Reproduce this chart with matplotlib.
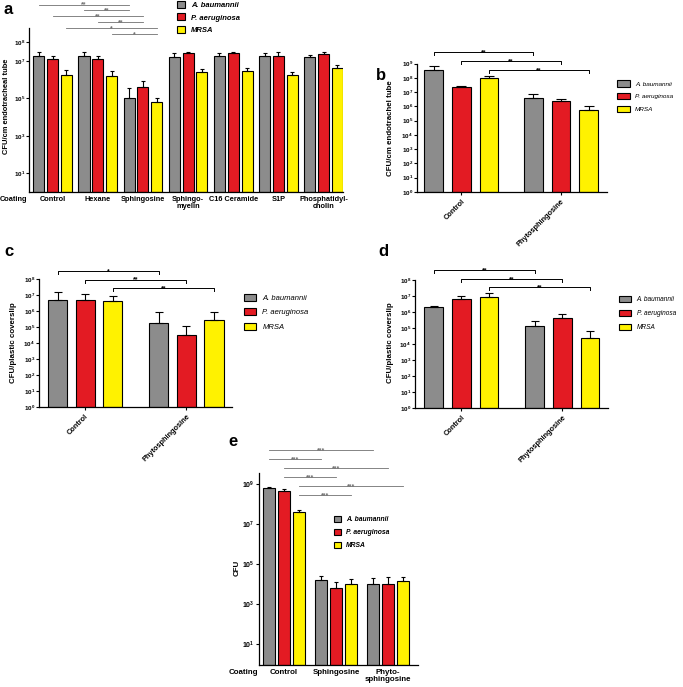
import numpy as np
import matplotlib
matplotlib.use("Agg")
import matplotlib.pyplot as plt
import matplotlib.transforms as mtrans
from matplotlib.patches import Patch

plt.rcParams['font.family'] = ['Liberation Sans', 'DejaVu Sans']
plt.rcParams['mathtext.fontset'] = 'custom'
plt.rcParams['mathtext.rm'] = 'Liberation Sans'
plt.rcParams['mathtext.bf'] = 'Liberation Sans:bold'
plt.rcParams['mathtext.it'] = 'Liberation Sans:italic'

W, H = 683, 687
species = ["A. baumannii", "P. aeruginosa", "MRSA"]
colors = ["#8c8c8c", "#e31b23", "#fff200"]

# ---- panel a: endotracheal tube, lipid coatings
coat_a = ["Control", "Hexane", "Sphingosine", "Sphingo-\nmyelin", "C16 Ceramide", "S1P",
          "Phosphatidyl-\ncholin"]
ab_a = [1.85e7, 1.9e7, 1.0e5, 1.6e7, 1.85e7, 1.85e7, 1.6e7]
ab_a_err = [1.25e7, 1.1e7, 2.4e5, 1.0e7, 0.75e7, 0.95e7, 0.4e7]
pa_a = [1.2e7, 1.2e7, 3.9e5, 2.5e7, 2.5e7, 1.9e7, 2.4e7]
pa_a_err = [0.65e7, 0.6e7, 5.0e5, 0.4e7, 0.6e7, 1.0e7, 0.7e7]
mr_a = [1.7e6, 1.5e6, 6.1e4, 2.6e6, 2.9e6, 1.8e6, 4.4e6]
mr_a_err = [1.6e6, 1.3e6, 3.9e4, 1.3e6, 1.2e6, 0.9e6, 1.7e6]
# (species index, group from, group to, label)
sig_a = [(0, 0, 2, "**"), (0, 1, 2, "**"), (1, 0, 2, "**"), (1, 1, 2, "**"),
         (2, 0, 2, "*"), (2, 1, 2, "*")]

# ---- panel b: endotracheal tube, phytosphingosine
coat_2 = ["Control", "Phytosphingosine"]
ab_b = [3.7e8, 3.7e6]
ab_b_err = [3.3e8, 3.1e6]
pa_b = [2.2e7, 2.3e6]
pa_b_err = [0.6e7, 0.9e6]
mr_b = [9.0e7, 5.6e5]
mr_b_err = [3.6e7, 4.4e5]
sig_b = [(0, 0, 1, "**"), (1, 0, 1, "**"), (2, 0, 1, "**")]

# ---- panel c: plastic coverslip
ab_c = [4.6e6, 1.7e5]
ab_c_err = [1.04e7, 7.0e5]
pa_c = [4.6e6, 3.3e4]
pa_c_err = [6.4e6, 7.7e4]
mr_c = [4.0e6, 2.7e5]
mr_c_err = [5.0e6, 5.6e5]
sig_c = [(0, 0, 1, "*"), (1, 0, 1, "**"), (2, 0, 1, "**")]

# ---- panel d: plastic coverslip
ab_d = [2.0e6, 1.4e5]
ab_d_err = [0.4e6, 1.3e5]
pa_d = [6.9e6, 4.1e5]
pa_d_err = [2.8e6, 3.9e5]
mr_d = [9.2e6, 2.4e4]
mr_d_err = [5.8e6, 3.9e4]
sig_d = [(0, 0, 1, "**"), (1, 0, 1, "**"), (2, 0, 1, "**")]

# ---- panel e: CFU
coat_e = ["Control", "Sphingosine", "Phyto-\nsphingosine"]
ab_e = [6.3e8, 1.7e4, 9.8e3]
ab_e_err = [1.1e8, 0.8e4, 1.0e4]
pa_e = [4.6e8, 6.5e3, 1.05e4]
pa_e_err = [1.2e8, 6.5e3, 1.25e4]
mr_e = [4.1e7, 9.8e3, 1.4e4]
mr_e_err = [0.9e7, 0.9e4, 0.9e4]
sig_e = [(0, 0, 2, "***"), (0, 0, 1, "***"), (1, 0, 2, "***"), (1, 0, 1, "***"),
         (2, 0, 2, "***"), (2, 0, 1, "***")]

fig = plt.figure(figsize=(W / 100, H / 100), dpi=100)


def place(l, t, r, b):
    return fig.add_axes([l / W, 1 - b / H, (r - l) / W, (b - t) / H])


def bars(ax, stride, vals, errs, width, cap, ylim):
    ax.set_yscale('log')
    ax.set_ylim(*ylim)
    centers = np.arange(len(vals[0])) * stride
    for k in range(3):
        x = centers + (k - 1)
        ax.bar(x, vals[k], width, bottom=ylim[0], color=colors[k], edgecolor='black',
               lw=0.8, zorder=2,
               yerr=[np.zeros(len(x)), errs[k]],
               error_kw=dict(ecolor='black', elinewidth=0.8, capsize=cap, capthick=0.8))
    for s in ['top', 'right']:
        ax.spines[s].set_visible(False)
    for s in ['left', 'bottom']:
        ax.spines[s].set_linewidth(0.9)
    ax.tick_params(axis='y', labelsize=4.5, length=2, width=0.8, pad=1)
    ax.minorticks_off()
    return centers


def ylog_ticks(ax, exps):
    ax.set_yticks([10.0 ** e for e in exps])
    ax.set_yticklabels([r'$\mathbf{10^{%d}}$' % e for e in exps])


def sig(ax, centers, items, y0, step, tick, color, lw, fs):
    tr = mtrans.blended_transform_factory(ax.transData, fig.transFigure)
    for i, (k, g1, g2, lab) in enumerate(items):
        x1 = centers[g1] + k - 1
        x2 = centers[g2] + k - 1
        y = 1 - (y0 + i * step) / H
        dy = tick / H
        if tick:
            ax.plot([x1, x1, x2, x2], [y - dy, y, y, y - dy], color=color, lw=lw,
                    transform=tr, clip_on=False)
        else:
            ax.plot([x1, x2], [y, y], color=color, lw=lw, transform=tr, clip_on=False)
        ax.text((x1 + x2) / 2, y - 2.2 / H, lab, transform=tr, ha='center', va='baseline',
                fontsize=fs, color=color, fontweight='bold')


def legend(ax, xpx, ypx, fs, style, weight, hl, hh, ls):
    handles = [Patch(facecolor=c, edgecolor='black', lw=0.8) for c in colors]
    ax.legend(handles, species, loc='upper left', bbox_to_anchor=(xpx / W, 1 - ypx / H),
              bbox_transform=fig.transFigure, frameon=False, borderpad=0, borderaxespad=0,
              handlelength=hl, handleheight=hh, handletextpad=0.8, labelspacing=ls,
              prop=dict(size=fs, style=style, weight=weight))


# ---------- a
ax = place(29, 28, 343, 192)
ca = bars(ax, 3.27, [ab_a, pa_a, mr_a], [ab_a_err, pa_a_err, mr_a_err], 0.8, 1.3,
          (1, 10 ** 8.76))
ax.set_xlim(-1.71, ca[-1] + 1.4)
ylog_ticks(ax, [1, 3, 5, 7, 8])
ax.set_xticks(ca)
ax.set_xticklabels(coat_a, fontsize=5.3, fontweight='bold', va='top', linespacing=1.0)
ax.tick_params(axis='x', length=0, pad=3)
sig(ax, ca, sig_a, 4.5, 5.9, 0, '#707070', 0.6, 5)
legend(ax, 177, 1, 5.5, 'italic', 'bold', 1.0, 1.0, 0.58)
fig.text(13 / W, 1 - 199 / H, "Coating", fontsize=5.3, fontweight='bold', ha='center', va='center')
fig.text(7 / W, 1 - 106 / H, "CFU/cm endotracheal tube", rotation=90, fontsize=5.4,
         fontweight='bold', ha='center', va='center')

# ---------- b
ax = place(417, 63.5, 607, 192)
cb = bars(ax, 3.6, [ab_b, pa_b, mr_b], [ab_b_err, pa_b_err, mr_b_err], 0.67, 3.5, (1, 1e9))
ax.set_xlim(-1.6, cb[-1] + 1.66)
ylog_ticks(ax, range(0, 10))
ax.set_xticks(cb)
ax.set_xticklabels(coat_2, rotation=45, ha='right', rotation_mode='anchor', fontsize=5.3,
                   fontweight='bold')
ax.tick_params(axis='x', length=2, width=0.8, pad=2)
sig(ax, cb, sig_b, 52.3, 8.85, 3, 'black', 0.7, 5)
legend(ax, 617, 80.5, 4.6, 'italic', 'normal', 2.0, 1.1, 1.0)
fig.text(391 / W, 1 - 128 / H, "CFU/cm endotrachel tube", rotation=90, fontsize=5.7,
         fontweight='bold', ha='center', va='center')

# ---------- c
ax = place(39, 279, 232, 407)
cc = bars(ax, 3.65, [ab_c, pa_c, mr_c], [ab_c_err, pa_c_err, mr_c_err], 0.69, 3.2, (1, 1e8))
ax.set_xlim(-1.67, cc[-1] + 1.65)
ylog_ticks(ax, range(0, 9))
ax.set_xticks(cc)
ax.set_xticklabels(coat_2, rotation=45, ha='right', rotation_mode='anchor', fontsize=5.3,
                   fontweight='bold')
ax.tick_params(axis='x', length=2, width=0.8, pad=2)
sig(ax, cc, sig_c, 270.7, 8.8, 3, 'black', 0.7, 5)
legend(ax, 244, 294, 5.5, 'italic', 'normal', 1.6, 1.0, 0.84)
fig.text(13.5 / W, 1 - 343 / H, "CFU/plastic coverslip", rotation=90, fontsize=5.7,
         fontweight='bold', ha='center', va='center')

# ---------- d
ax = place(415, 280, 608, 408)
cd = bars(ax, 3.66, [ab_d, pa_d, mr_d], [ab_d_err, pa_d_err, mr_d_err], 0.68, 3.2, (1, 1e8))
ax.set_xlim(-1.68, cd[-1] + 1.65)
ylog_ticks(ax, range(0, 9))
ax.set_xticks(cd)
ax.set_xticklabels(coat_2, rotation=45, ha='right', rotation_mode='anchor', fontsize=5.3,
                   fontweight='bold')
ax.tick_params(axis='x', length=2, width=0.8, pad=2)
sig(ax, cd, sig_d, 270, 8.65, 3, 'black', 0.7, 5)
legend(ax, 619, 296, 4.7, 'italic', 'normal', 1.9, 1.1, 1.0)
fig.text(390 / W, 1 - 343 / H, "CFU/plastic coverslip", rotation=90, fontsize=5.7,
         fontweight='bold', ha='center', va='center')

# ---------- e
ax = place(259, 473, 418, 665)
ce = bars(ax, 3.47, [ab_e, pa_e, mr_e], [ab_e_err, pa_e_err, mr_e_err], 0.78, 1.3,
          (10 ** -0.04, 10 ** 9.57))
ax.set_xlim(-1.66, ce[-1] + 2.0)
ylog_ticks(ax, [1, 3, 5, 7, 9])
ax.set_xticks(ce)
ax.set_xticklabels(coat_e, fontsize=5.7, fontweight='bold', va='top', linespacing=1.0)
ax.tick_params(axis='x', length=0, pad=3)
ax.tick_params(axis='y', labelsize=5)
sig(ax, ce, sig_e, 450, 9.0, 0, '#707070', 0.6, 5)
legend(ax, 334, 515.5, 4.9, 'italic', 'bold', 1.0, 1.0, 0.87)
fig.text(243 / W, 1 - 673 / H, "Coating", fontsize=5.7, fontweight='bold', ha='center', va='center')
fig.text(236.7 / W, 1 - 568 / H, "CFU", rotation=90, fontsize=5.7,
         fontweight='bold', ha='center', va='center')

# panel letters
for lab, x, y in [("a", 8, 9), ("b", 381, 76), ("c", 9, 252), ("d", 383, 252), ("e", 233, 442)]:
    fig.text(x / W, 1 - y / H, lab, fontsize=12, fontweight='bold', ha='center', va='center')

fig.savefig("out.png", dpi=100)
